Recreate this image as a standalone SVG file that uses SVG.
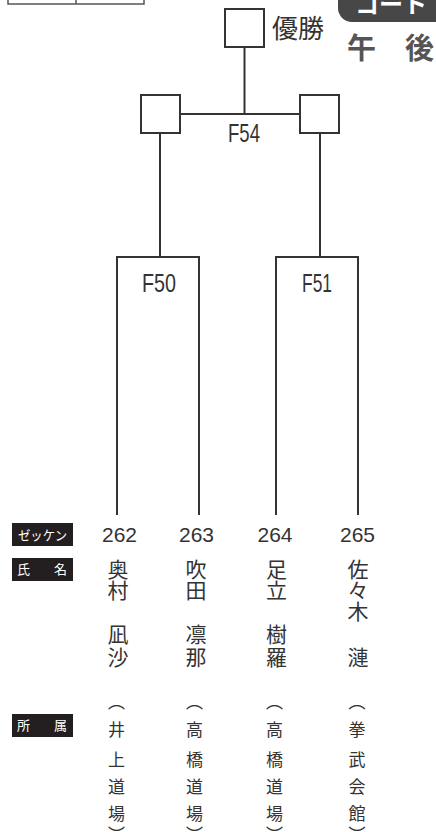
<svg xmlns="http://www.w3.org/2000/svg" width="436" height="832" viewBox="0 0 436 832">
<style>
.ln{fill:none;stroke:#333;stroke-width:2}
.bx{fill:#fff;stroke:#333;stroke-width:2}
.num{font-family:"Liberation Sans",Arial,sans-serif;font-size:21px;fill:#333;text-anchor:middle}
.fl{font-family:"Liberation Sans",Arial,sans-serif;font-size:25px;fill:#333;text-anchor:middle}
.jp{font-family:"Noto Sans CJK JP",sans-serif;fill:#333;text-anchor:middle}
.nm{font-size:21px}
.af{font-size:17px}
.lb{fill:#231f20}
.lt{font-family:"Noto Sans CJK JP",sans-serif;font-size:13px;fill:#fff}
.ttl{font-family:"Noto Sans CJK JP",sans-serif;font-size:26px;fill:#333}
</style>
<rect width="436" height="832" fill="#fff"/>
<g id="table-fragment">
<rect x="8" y="-4" width="136" height="8" fill="none" stroke="#555" stroke-width="1.5"/>
<line x1="76" y1="-4" x2="76" y2="4" stroke="#555" stroke-width="1.5"/>
</g>
<g id="court-tab">
<rect x="338" y="-24" width="130" height="46" rx="14" fill="#474747"/>
<text x="355" y="13" font-family="Noto Sans CJK JP,sans-serif" font-size="24" font-weight="bold" fill="#fff">コート</text>
</g>
<g id="pm-label">
<text x="347" y="59" font-family="Noto Sans CJK JP,sans-serif" font-size="29" font-weight="bold" fill="#555">午</text>
<text x="405" y="59" font-family="Noto Sans CJK JP,sans-serif" font-size="29" font-weight="bold" fill="#555">後</text>
</g>
<g id="connectors">
<line class="ln" x1="244.5" y1="47" x2="244.5" y2="114"/>
<line class="ln" x1="180" y1="114" x2="300" y2="114"/>
<line class="ln" x1="160" y1="133" x2="160" y2="257"/>
<line class="ln" x1="320" y1="133" x2="320" y2="257"/>
<polyline class="ln" points="117,515 117,257 199,257 199,515"/>
<polyline class="ln" points="276,515 276,257 358,257 358,515"/>
</g>
<g id="winner">
<rect class="bx" x="225" y="9" width="39" height="38"/>
<text class="ttl" x="272" y="38">優勝</text>
</g>
<g id="F54">
<rect class="bx" x="141" y="95" width="39" height="38"/>
<rect class="bx" x="300" y="95" width="39" height="38"/>
<text class="fl" x="244" y="142" textLength="32" lengthAdjust="spacingAndGlyphs">F54</text>
</g>
<g id="F50">
<text class="fl" x="159" y="292" textLength="34" lengthAdjust="spacingAndGlyphs">F50</text>
</g>
<g id="F51">
<text class="fl" x="317" y="292" textLength="30" lengthAdjust="spacingAndGlyphs">F51</text>
</g>
<g id="labels">
<rect class="lb" x="12" y="523" width="61" height="23"/>
<text class="lt" x="18" y="539.5" textLength="49" lengthAdjust="spacingAndGlyphs">ゼッケン</text>
<rect class="lb" x="12" y="558" width="61" height="23"/>
<text class="lt" x="17" y="574">氏</text>
<text class="lt" x="54" y="574">名</text>
<rect class="lb" x="12" y="714" width="61" height="23"/>
<text class="lt" x="17" y="730">所</text>
<text class="lt" x="54" y="730">属</text>
</g>
<g id="p262">
<text class="num" x="119.5" y="542">262</text>
<text class="jp nm" x="118" y="576.5">奥</text>
<text class="jp nm" x="118" y="597.5">村</text>
<text class="jp nm" x="118" y="642">凪</text>
<text class="jp nm" x="118" y="664.5">沙</text>
<text class="jp af" x="116.5" y="708">︵</text>
<text class="jp af" x="116.5" y="736">井</text>
<text class="jp af" x="116.5" y="765.5">上</text>
<text class="jp af" x="116.5" y="792.5">道</text>
<text class="jp af" x="116.5" y="819.5">場</text>
<text class="jp af" x="116.5" y="841">︶</text>
</g>
<g id="p263">
<text class="num" x="196.5" y="542">263</text>
<text class="jp nm" x="196" y="576.5">吹</text>
<text class="jp nm" x="196" y="597.5">田</text>
<text class="jp nm" x="196" y="642">凛</text>
<text class="jp nm" x="196" y="664.5">那</text>
<text class="jp af" x="194.5" y="708">︵</text>
<text class="jp af" x="194.5" y="736">高</text>
<text class="jp af" x="194.5" y="765.5">橋</text>
<text class="jp af" x="194.5" y="792.5">道</text>
<text class="jp af" x="194.5" y="819.5">場</text>
<text class="jp af" x="194.5" y="841">︶</text>
</g>
<g id="p264">
<text class="num" x="275" y="542">264</text>
<text class="jp nm" x="276.5" y="576.5">足</text>
<text class="jp nm" x="276.5" y="597.5">立</text>
<text class="jp nm" x="276.5" y="642">樹</text>
<text class="jp nm" x="276.5" y="664.5">羅</text>
<text class="jp af" x="274.5" y="708">︵</text>
<text class="jp af" x="274.5" y="736">高</text>
<text class="jp af" x="274.5" y="765.5">橋</text>
<text class="jp af" x="274.5" y="792.5">道</text>
<text class="jp af" x="274.5" y="819.5">場</text>
<text class="jp af" x="274.5" y="841">︶</text>
</g>
<g id="p265">
<text class="num" x="357.5" y="542">265</text>
<text class="jp nm" x="358" y="576.5">佐</text>
<text class="jp nm" x="358" y="597.5">々</text>
<text class="jp nm" x="358" y="619">木</text>
<text class="jp nm" x="358" y="664.5">漣</text>
<text class="jp af" x="357" y="708">︵</text>
<text class="jp af" x="357" y="736">拳</text>
<text class="jp af" x="357" y="765.5">武</text>
<text class="jp af" x="357" y="792.5">会</text>
<text class="jp af" x="357" y="819.5">館</text>
<text class="jp af" x="357" y="841">︶</text>
</g>
</svg>
